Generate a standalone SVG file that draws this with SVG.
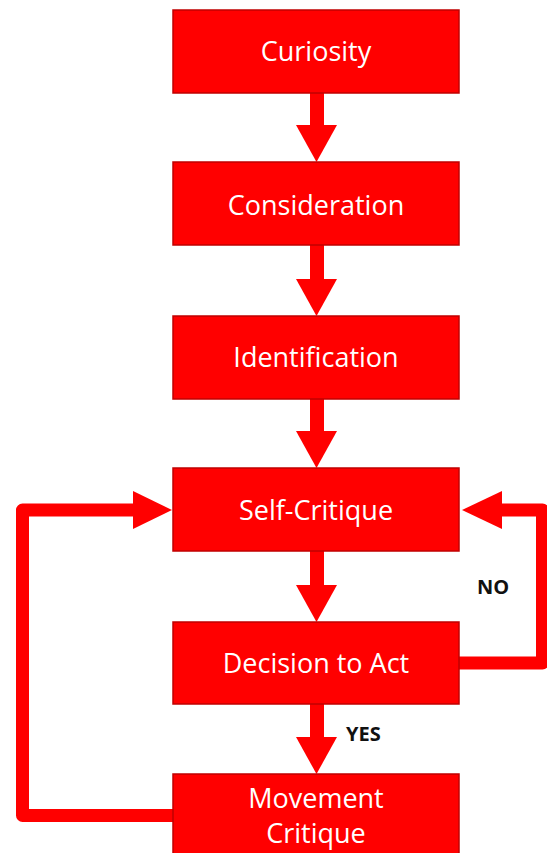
<svg xmlns="http://www.w3.org/2000/svg" width="547" height="853" viewBox="0 0 547 853">
  <style>
    .box { fill: #FF0000; stroke: #C00000; stroke-width: 1.5; }
    .lbl { fill: #FFFFFF; font-family: "Open Sans", "Liberation Sans", sans-serif; font-size: 27px; text-anchor: middle; }
    .ann { fill: #111111; font-family: "Open Sans", "Liberation Sans", sans-serif; font-size: 20px; font-weight: bold; }
    .shaft { fill: #FF0000; }
    .head { fill: #FF0000; }
    .loop { fill: none; stroke: #FF0000; stroke-width: 13; stroke-linejoin: round; }
  </style>
  <rect width="547" height="853" fill="#FFFFFF"/>
  <g id="connectors">
    <!-- vertical arrows -->
    <g id="a1"><rect class="shaft" x="310" y="93" width="14" height="33"/><polygon class="head" points="296,125 337,125 316.5,162"/></g>
    <g id="a2"><rect class="shaft" x="310" y="245" width="14" height="35"/><polygon class="head" points="296,279 337,279 316.5,316"/></g>
    <g id="a3"><rect class="shaft" x="310" y="399" width="14" height="33"/><polygon class="head" points="296,431 337,431 316.5,468"/></g>
    <g id="a4"><rect class="shaft" x="310" y="551" width="14" height="35"/><polygon class="head" points="296,585 337,585 316.5,622"/></g>
    <g id="a5"><rect class="shaft" x="310" y="704" width="14" height="34"/><polygon class="head" points="296,737 337,737 316.5,774"/></g>
    <!-- left loop: Movement Critique -> Self-Critique -->
    <g id="loop-left">
      <polyline class="loop" points="173,815.5 22.5,815.5 22.5,510 134,510"/>
      <polygon class="head" points="133,491 172,510 133,529"/>
    </g>
    <!-- right loop: Decision to Act (NO) -> Self-Critique -->
    <g id="loop-right">
      <polyline class="loop" points="459,663 542.5,663 542.5,510 501,510"/>
      <polygon class="head" points="502,491 462,510 502,529"/>
    </g>
    <text class="ann" x="477" y="594">NO</text>
    <text class="ann" x="346" y="741">YES</text>
  </g>
  <g id="curiosity"><rect class="box" x="173" y="10" width="286" height="83"/><text class="lbl" x="316" y="61">Curiosity</text></g>
  <g id="consideration"><rect class="box" x="173" y="162" width="286" height="83"/><text class="lbl" x="316" y="215">Consideration</text></g>
  <g id="identification"><rect class="box" x="173" y="316" width="286" height="83"/><text class="lbl" x="316" y="367">Identification</text></g>
  <g id="self-critique"><rect class="box" x="173" y="468" width="286" height="83"/><text class="lbl" x="316" y="520">Self-Critique</text></g>
  <g id="decision"><rect class="box" x="173" y="622" width="286" height="82"/><text class="lbl" x="316" y="673">Decision to Act</text></g>
  <g id="movement-critique"><rect class="box" x="173" y="774" width="286" height="90"/><text class="lbl" x="316" y="808">Movement</text><text class="lbl" x="316" y="843">Critique</text></g>
</svg>
